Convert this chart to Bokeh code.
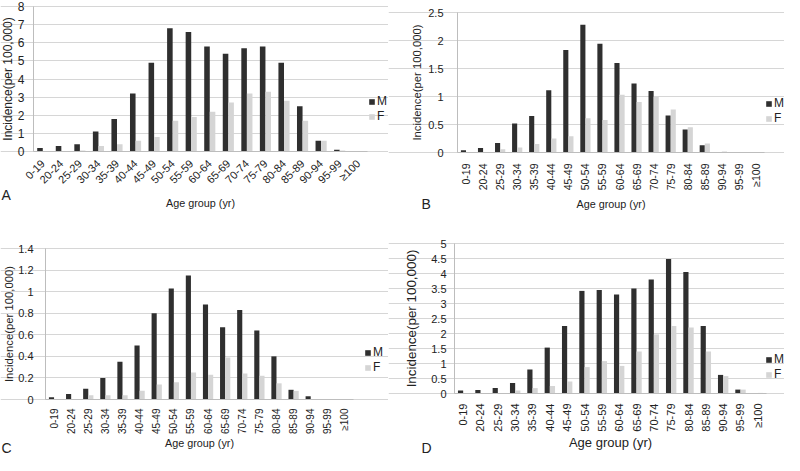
from bokeh.plotting import figure
from bokeh.layouts import column, row
from bokeh.models import (ColumnDataSource, Range1d, FixedTicker, Legend, LegendItem,
                          Label, CustomJSTickFormatter)
from bokeh.transform import dodge
from bokeh.embed import file_html
from bokeh.resources import INLINE

ages = ["0-19", "20-24", "25-29", "30-34", "35-39", "40-44", "45-49", "50-54", "55-59",
        "60-64", "65-69", "70-74", "75-79", "80-84", "85-89", "90-94", "95-99", "≥100"]

a_m = [0.2, 0.3, 0.4, 1.1, 1.8, 3.2, 4.9, 6.8, 6.6, 5.8, 5.4, 5.7, 5.8, 4.9, 2.5, 0.6, 0.1, 0.0]
a_f = [0.02, 0.02, 0.05, 0.3, 0.4, 0.6, 0.8, 1.7, 1.9, 2.2, 2.7, 3.2, 3.3, 2.8, 1.7, 0.6, 0.05, 0.0]

b_m = [0.04, 0.08, 0.17, 0.52, 0.65, 1.11, 1.83, 2.28, 1.94, 1.6, 1.23, 1.1, 0.66, 0.41, 0.13, 0.0, 0.0, 0.0]
b_f = [0.01, 0.01, 0.06, 0.09, 0.15, 0.25, 0.29, 0.61, 0.58, 1.03, 0.9, 1.0, 0.77, 0.45, 0.16, 0.02, 0.0, 0.0]

c_m = [0.02, 0.05, 0.1, 0.2, 0.35, 0.5, 0.8, 1.03, 1.15, 0.88, 0.67, 0.83, 0.64, 0.4, 0.09, 0.03, 0.0, 0.0]
c_f = [0.005, 0.0, 0.04, 0.04, 0.04, 0.08, 0.14, 0.16, 0.25, 0.23, 0.39, 0.24, 0.22, 0.15, 0.08, 0.0, 0.0, 0.0]

d_m = [0.1, 0.12, 0.18, 0.35, 0.8, 1.53, 2.25, 3.42, 3.45, 3.3, 3.5, 3.8, 4.48, 4.05, 2.25, 0.62, 0.13, 0.0]
d_f = [0.02, 0.02, 0.02, 0.1, 0.18, 0.25, 0.4, 0.88, 1.08, 0.92, 1.4, 1.97, 2.25, 2.2, 1.4, 0.58, 0.13, 0.02]

a_ticks = [0, 1, 2, 3, 4, 5, 6, 7, 8]
b_ticks = [0, 0.5, 1, 1.5, 2, 2.5]
c_ticks = [0, 0.2, 0.4, 0.6, 0.8, 1, 1.2, 1.4]
d_ticks = [0, 0.5, 1, 1.5, 2, 2.5, 3, 3.5, 4, 4.5, 5]

FONT = "Liberation Sans"
TXT = "#222222"
M_COL = "#2f2f2f"
F_COL = "#d5d5d5"


def panel(letter, m, f, ticks, W, H, box, st, fonts, leg, let_xy):
    # box: plot-area pixel edges (left, right, top, bottom) inside the canvas
    L, R, T, B = box
    n = len(ages)
    u = n / (R - L)
    ymax = ticks[-1]
    v = ymax / (B - T)
    p = figure(width=W, height=H, output_backend="svg", toolbar_location=None,
               x_range=Range1d(-0.5 - L * u, n - 0.5 + (W - R) * u),
               y_range=Range1d(-(H - B) * v, ymax + T * v),
               min_border=0, min_border_left=0, min_border_right=0,
               min_border_top=0, min_border_bottom=0)
    idx = list(range(n))
    src = ColumnDataSource(dict(i=idx, m=m, f=f))
    rm = p.vbar(x=dodge("i", -0.15), top="m", width=0.3, source=src,
                fill_color=M_COL, line_color=None)
    rf = p.vbar(x=dodge("i", 0.15), top="f", width=0.3, source=src,
                fill_color=F_COL, line_color=None)
    p.outline_line_color = None
    p.xgrid.grid_line_color = None
    p.ygrid.grid_line_color = "#d6d6d6"
    p.ygrid.ticker = FixedTicker(ticks=ticks)
    p.ygrid.bounds = (-0.5, n - 0.5)

    xa = p.xaxis[0]
    ya = p.yaxis[0]
    xa.fixed_location = 0
    xa.bounds = (-0.5, n - 0.5)
    xa.ticker = FixedTicker(ticks=idx)
    xa.major_label_overrides = {i: a for i, a in enumerate(ages)}
    ya.fixed_location = -0.5
    ya.bounds = (0, ymax)
    ya.ticker = FixedTicker(ticks=ticks)
    ya.formatter = CustomJSTickFormatter(code="return String(Math.round(tick*10)/10);")
    for ax in (xa, ya):
        ax.axis_line_color = "#bdbdbd"
        ax.major_tick_line_color = None
        ax.minor_tick_line_color = None
        ax.major_label_text_font = FONT
        ax.major_label_text_color = TXT
        ax.axis_label_text_font = FONT
        ax.axis_label_text_font_style = "normal"
        ax.axis_label_text_color = TXT
    xfs, yfs, xtfs, ytfs, orient = fonts
    xa.major_label_text_font_size = xfs
    ya.major_label_text_font_size = yfs
    xa.axis_label_text_font_size = xtfs
    ya.axis_label_text_font_size = ytfs
    xa.major_label_orientation = orient
    xa.axis_label = "Age group (yr)"
    ya.axis_label = "Incidence(per 100,000)"
    xa.major_label_standoff, xa.axis_label_standoff, ya.major_label_standoff, ya.axis_label_standoff = st

    lx, ly = leg
    legend = Legend(items=[LegendItem(label="M", renderers=[rm]),
                           LegendItem(label="F", renderers=[rf])],
                    location=(lx, ly), glyph_width=7, glyph_height=7, label_standoff=2,
                    spacing=1, padding=0, margin=0, border_line_color=None,
                    background_fill_alpha=0, label_text_font=FONT,
                    label_text_font_size="12px", label_text_color=TXT,
                    label_height=12, label_width=9)
    p.add_layout(legend)
    p.add_layout(Label(x=let_xy[0], y=let_xy[1], x_units="screen", y_units="screen",
                       text=letter, text_font=FONT, text_font_size="14px",
                       text_color=TXT, text_baseline="middle", text_align="left"))
    return p


pA = panel("A", a_m, a_f, a_ticks, 388, 228, (33, 367, 6, 151), (4, 4, 3, 0),
           ("11px", "12px", "10.8px", "12px", 0.785398), (368, 105), (1, 34))
pB = panel("B", b_m, b_f, b_ticks, 396, 228, (69, 376, 12, 152), (5, 5, 8, 2),
           ("10.5px", "11px", "10.8px", "11.3px", 1.570796), (377, 103), (33, 25))
pC = panel("C", c_m, c_f, c_ticks, 388, 227, (45, 353, 20, 171), (3, 0, 6, 0),
           ("10px", "11px", "10.8px", "11.3px", 1.570796), (364, 81), (1, 8))
pD = panel("D", d_m, d_f, d_ticks, 396, 227, (66, 378, 15, 165), (4, 0, 2, 9),
           ("11px", "11px", "13px", "13.4px", 1.570796), (377, 74), (33, 8))

layout = column(row(pA, pB), row(pC, pD))
open("out.html", "w").write(file_html(layout, INLINE))
